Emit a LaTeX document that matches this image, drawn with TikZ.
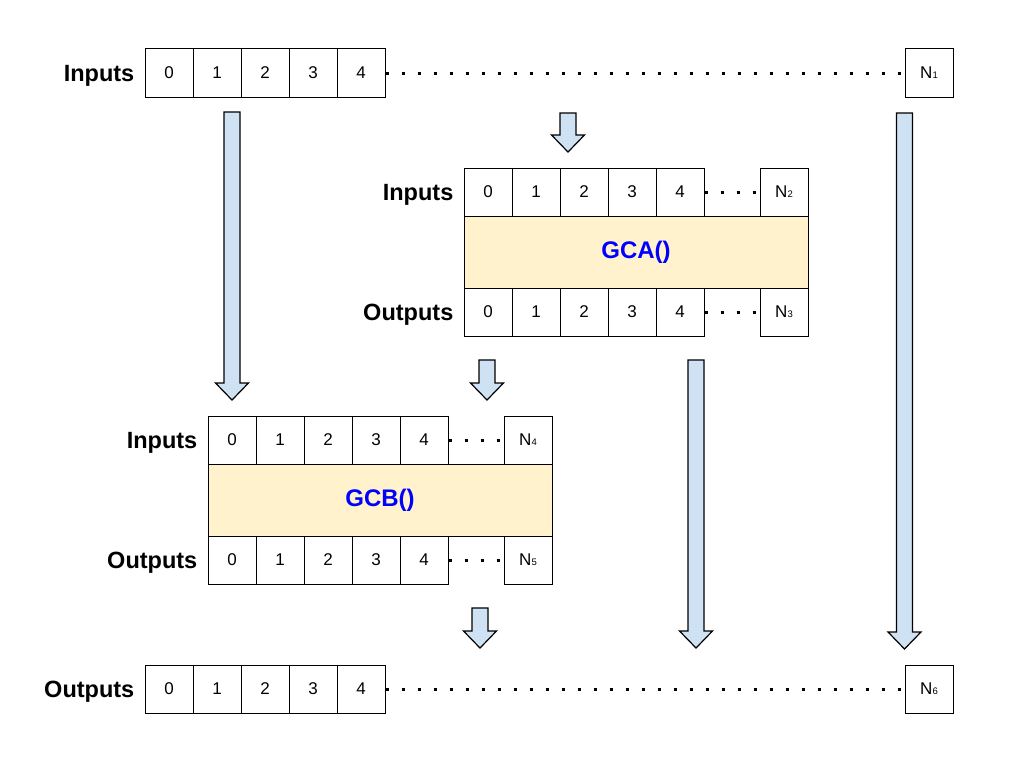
\documentclass[tikz,border=0pt]{standalone}
\usepackage{fontspec}
\setmainfont{Liberation Sans}
\usetikzlibrary{positioning}
\definecolor{arrowblue}{HTML}{CFE2F3}
\definecolor{boxyellow}{HTML}{FFF2CC}
\definecolor{callblue}{HTML}{0000FF}
\newcommand{\nsub}[1]{N{\fontsize{9.5}{10}\selectfont #1}}
\tikzset{
  cell/.style={draw=black,line width=1pt,minimum width=48pt,minimum height=48pt,inner sep=0pt,font=\fontsize{17}{20}\selectfont},
  rowlabel/.style={inner sep=0pt,text depth=0pt,font=\fontsize{23.5}{28}\selectfont\bfseries},
  callbox/.style={draw=black,line width=1pt,fill=boxyellow,minimum width=344pt,minimum height=72pt,inner sep=0pt,text=callblue,font=\fontsize{24}{28}\selectfont\bfseries},
  dotrow/.style={line width=3pt,dash pattern=on 3pt off 13pt},
  blockarrow/.style={draw=black,line width=1.2pt,fill=arrowblue},
}

\begin{document}
\begin{tikzpicture}[x=1pt,y=-1pt]
  \useasboundingbox (0,0) rectangle (1024,768);
  \foreach \x/\t/\b in {232/112/400,568/113/152,904.5/113/649,487/360/400,696/360/648,480/608/648}
    \draw[blockarrow] ({\x-8},\t) -- ({\x+8},\t) -- ({\x+8},{\b-17}) -- ({\x+16.5},{\b-17})
      -- (\x,\b) -- ({\x-16.5},{\b-17}) -- ({\x-8},{\b-17}) -- cycle;

  \foreach \i in {0,...,4}{
    \node[cell] (in\i) at (169+48*\i,73) {\i};
    \node[cell] (out\i) at (169+48*\i,689) {\i};
  }
  \node[cell] (inN) at (929,73) {\nsub{1}};
  \node[cell] (outN) at (929,689) {\nsub{6}};
  \node[rowlabel,left=10pt of in0] (inlab) {Inputs};
  \node[rowlabel,left=10pt of out0] (outlab) {Outputs};
  \draw[dotrow] (in4.east) -- (inN.west);
  \draw[dotrow] (out4.east) -- (outN.west);

  \node[callbox] (gca) at (636,252) {GCA()};
  \foreach \i in {0,...,4}{
    \node[cell] (gcaIn\i) at (488+48*\i,192) {\i};
    \node[cell] (gcaOut\i) at (488+48*\i,312) {\i};
  }
  \node[cell] (gcaInN) at (784,192) {\nsub{2}};
  \node[cell] (gcaOutN) at (784,312) {\nsub{3}};
  \node[rowlabel,left=10pt of gcaIn0] (gcaInlab) {Inputs};
  \node[rowlabel,left=10pt of gcaOut0] (gcaOutlab) {Outputs};
  \draw[dotrow] (gcaIn4.east) -- (gcaInN.west);
  \draw[dotrow] (gcaOut4.east) -- (gcaOutN.west);

  \node[callbox] (gcb) at (380,500) {GCB()};
  \foreach \i in {0,...,4}{
    \node[cell] (gcbIn\i) at (232+48*\i,440) {\i};
    \node[cell] (gcbOut\i) at (232+48*\i,560) {\i};
  }
  \node[cell] (gcbInN) at (528,440) {\nsub{4}};
  \node[cell] (gcbOutN) at (528,560) {\nsub{5}};
  \node[rowlabel,left=10pt of gcbIn0] (gcbInlab) {Inputs};
  \node[rowlabel,left=10pt of gcbOut0] (gcbOutlab) {Outputs};
  \draw[dotrow] (gcbIn4.east) -- (gcbInN.west);
  \draw[dotrow] (gcbOut4.east) -- (gcbOutN.west);
\end{tikzpicture}
\end{document}
